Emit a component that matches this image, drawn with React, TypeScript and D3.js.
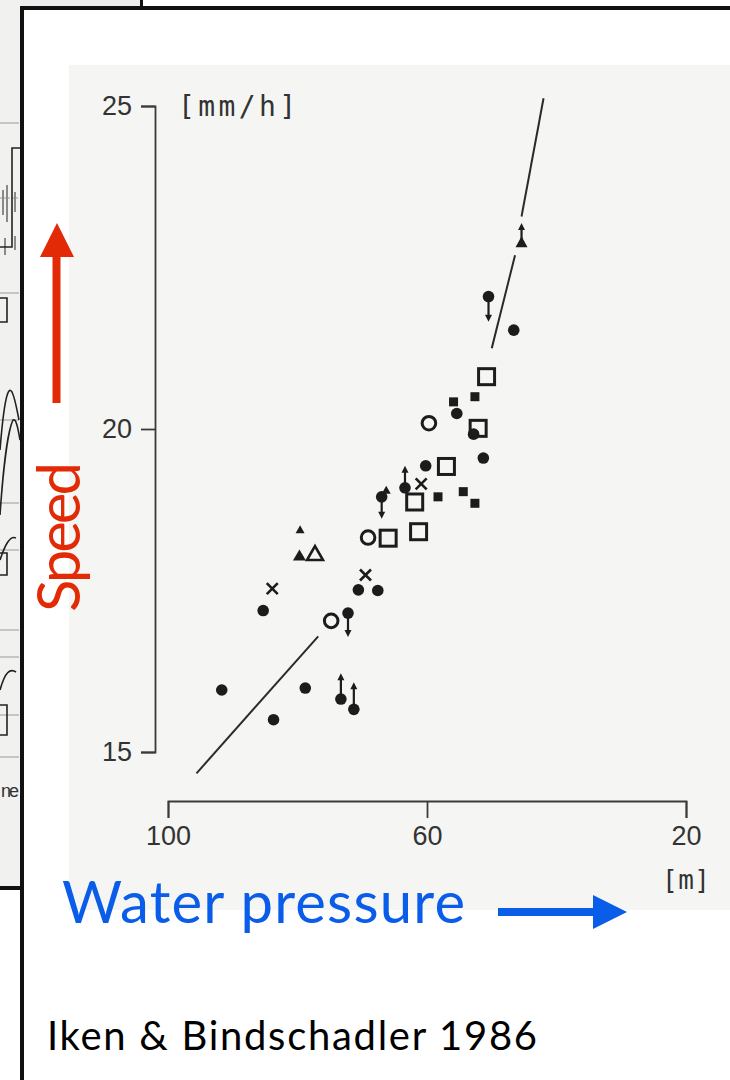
import React, { useEffect, useRef } from "react";
import * as d3 from "d3";

// ---- data (water pressure [m], speed [mm/h]) ----
const xTicks = [100, 60, 20];
const yTicks = [15, 20, 25];
const xDomain = [100, 20];
const yDomain = [15, 25];

const filledCircles: [number, number][] = [
  [91.7, 15.96], [83.7, 15.5], [78.8, 15.99], [85.3, 17.19], [70.6, 17.51],
  [67.6, 17.5], [60.2, 19.43], [51.3, 19.55], [52.8, 19.92], [55.4, 20.24], [46.6, 21.53],
];
// [x, y, arrow length in mm/h]
const circlesArrowDown: [number, number, number][] = [
  [72.2, 17.15, 0.37], [67.0, 18.95, 0.34], [50.5, 22.05, 0.39],
];
const circlesArrowUp: [number, number, number][] = [
  [73.3, 15.82, 0.4], [71.3, 15.66, 0.42], [63.4, 19.09, 0.34],
];
const smallSquares: [number, number][] = [
  [55.9, 20.42], [52.6, 20.5], [58.3, 18.95], [54.4, 19.03], [52.6, 18.85],
];
const openSquares: [number, number][] = [
  [50.8, 20.81], [52.1, 20.01], [57.0, 19.42], [61.9, 18.87], [61.3, 18.41], [66.0, 18.31],
];
const openCircles: [number, number][] = [[59.7, 20.09], [69.1, 18.32], [74.8, 17.03]];
const crosses: [number, number][] = [[83.9, 17.53], [69.5, 17.74], [60.9, 19.15]];
const filledTriangles: [number, number][] = [[79.7, 18.05]];
const smallTriangles: [number, number][] = [[79.6, 18.45], [66.3, 19.06]];
const trianglesArrowUp: [number, number, number][] = [[45.4, 22.9, 0.29]];
const openTriangles: [number, number][] = [[77.3, 18.08]];
const fitLines: [number, number][][] = [
  [[42.0, 25.12], [45.4, 23.29]],
  [[46.4, 22.69], [50.0, 21.25]],
  [[76.8, 16.79], [95.6, 14.67]],
];

const INK = "#1c1c1c";

export default function App() {
  const xAxisRef = useRef<SVGGElement>(null);
  const yAxisRef = useRef<SVGGElement>(null);

  const x = d3.scaleLinear().domain(xDomain).range([168, 686]);
  const y = d3.scaleLinear().domain(yDomain).range([752, 106]);

  useEffect(() => {
    const xa = d3.select(xAxisRef.current!);
    xa.call(
      d3.axisBottom(x).tickValues(xTicks).tickSize(17).tickSizeOuter(17).tickPadding(8).tickFormat(d3.format("d"))
    );
    const ya = d3.select(yAxisRef.current!);
    ya.call(
      d3.axisLeft(y).tickValues(yTicks).tickSize(14).tickSizeOuter(14).tickPadding(9).tickFormat(d3.format("d"))
    );
    [xa, ya].forEach((g) => {
      g.selectAll("path, line").attr("stroke", "#3a3a3a").attr("stroke-width", 1.8);
      g.selectAll("text")
        .attr("fill", "#333")
        .attr("font-size", 27)
        .attr("font-family", "'Liberation Sans', Arial, sans-serif");
    });
  }, []);

  const line = d3.line<[number, number]>().x((d) => x(d[0])).y((d) => y(d[1]));

  const arrow = (px: number, y0: number, y1: number, key: string) => {
    const dir = y1 > y0 ? 1 : -1;
    return (
      <g key={key}>
        <line x1={px} x2={px} y1={y0} y2={y1 - dir * 5} stroke={INK} strokeWidth={2.2} />
        <path d={`M${px - 3.5},${y1 - dir * 7}L${px + 3.5},${y1 - dir * 7}L${px},${y1}Z`} fill={INK} />
      </g>
    );
  };

  const tri = (cx: number, cy: number, w: number, h: number) =>
    `M${cx - w / 2},${cy + h / 2}L${cx + w / 2},${cy + h / 2}L${cx},${cy - h / 2}Z`;

  return (
    <svg
      width={730}
      height={1080}
      viewBox="0 0 730 1080"
      style={{ position: "absolute", left: 0, top: 0, background: "#fff" }}
    >
      {/* background slide fragments */}
      <rect x={0} y={0} width={730} height={1080} fill="#ffffff" />
      <rect x={0} y={0} width={141} height={7} fill="#eeefec" />
      <rect x={140} y={0} width={3} height={9} fill="#111" />
      <rect x={0} y={0} width={21} height={886} fill="#f1f2ef" />
      <g stroke="#9a9a9a" strokeWidth={1}>
        <line x1={0} x2={19} y1={123} y2={123} />
        <line x1={0} x2={19} y1={198} y2={198} strokeDasharray="2,2" />
        <line x1={0} x2={19} y1={293} y2={293} />
        <line x1={0} x2={19} y1={420} y2={420} />
        <line x1={0} x2={19} y1={503} y2={503} />
        <line x1={0} x2={19} y1={550} y2={550} />
        <line x1={0} x2={19} y1={630} y2={630} />
        <line x1={0} x2={19} y1={657} y2={657} />
        <line x1={0} x2={19} y1={715} y2={715} />
        <line x1={0} x2={19} y1={757} y2={757} />
      </g>
      <g stroke="#222" strokeWidth={1.6} fill="none">
        <path d="M0,247H12V148H20" />
        <path d="M3,190V215M7,185V222M15,192V212M5,238V255M15,236V250" strokeWidth={1} />
        <path d="M0,298H7V322H0" />
        <path d="M0,450C4,400 8,385 12,392C15,398 17,410 19,420" />
        <path d="M0,515C3,470 8,430 13,420C16,418 18,428 20,440" />
        <path d="M0,560C5,545 10,535 16,538" />
        <path d="M0,553H7V575H0" />
        <path d="M0,690C5,672 10,668 16,672" />
        <path d="M0,705H7V735H0" />
      </g>
      <text x={1} y={797} fontSize={18} fill="#333" fontFamily="'Liberation Sans', sans-serif"
        textLength={18}>ne</text>
      <rect x={0} y={886} width={21} height={4} fill="#111" />

      {/* front slide */}
      <rect x={22} y={8} width={760} height={1100} fill="#fff" stroke="#111" strokeWidth={4} />

      {/* scanned figure background */}
      <rect x={69} y={65} width={661} height={845} fill="#f5f6f4" />

      {/* fit lines */}
      {fitLines.map((seg, i) => (
        <path key={`fl${i}`} d={line(seg)!} stroke="#2a2a2a" strokeWidth={2} fill="none" />
      ))}

      {/* axes */}
      <g ref={xAxisRef} transform="translate(0,801)" />
      <g ref={yAxisRef} transform="translate(155,0)" />
      <text x={x(20)} y={889} textAnchor="middle" fontSize={26} fill="#333"
        fontFamily="'DejaVu Sans Mono', monospace" textLength={48}>[m]</text>
      <text x={178} y={116} fontSize={28} fill="#333"
        fontFamily="'DejaVu Sans Mono', monospace" textLength={118}>[mm/h]</text>

      {/* markers */}
      {filledCircles.map((d, i) => (
        <circle key={`fc${i}`} cx={x(d[0])} cy={y(d[1])} r={5.8} fill={INK} />
      ))}
      {circlesArrowDown.map((d, i) => (
        <g key={`cd${i}`}>
          <circle cx={x(d[0])} cy={y(d[1])} r={5.8} fill={INK} />
          {arrow(x(d[0]), y(d[1]), y(d[1] - d[2]), `ad${i}`)}
        </g>
      ))}
      {circlesArrowUp.map((d, i) => (
        <g key={`cu${i}`}>
          <circle cx={x(d[0])} cy={y(d[1])} r={5.8} fill={INK} />
          {arrow(x(d[0]), y(d[1]), y(d[1] + d[2]), `au${i}`)}
        </g>
      ))}
      {smallSquares.map((d, i) => (
        <rect key={`ss${i}`} x={x(d[0]) - 4.5} y={y(d[1]) - 4.5} width={9} height={9} fill={INK} />
      ))}
      {openSquares.map((d, i) => (
        <rect key={`os${i}`} x={x(d[0]) - 8} y={y(d[1]) - 8} width={16} height={16}
          fill="none" stroke={INK} strokeWidth={3} />
      ))}
      {openCircles.map((d, i) => (
        <circle key={`oc${i}`} cx={x(d[0])} cy={y(d[1])} r={6.8} fill="none" stroke={INK} strokeWidth={3} />
      ))}
      {crosses.map((d, i) => {
        const cx = x(d[0]), cy = y(d[1]), s = 5.5;
        return (
          <path key={`x${i}`} d={`M${cx - s},${cy - s}L${cx + s},${cy + s}M${cx - s},${cy + s}L${cx + s},${cy - s}`}
            stroke={INK} strokeWidth={2.6} />
        );
      })}
      {filledTriangles.map((d, i) => (
        <path key={`ft${i}`} d={tri(x(d[0]), y(d[1]), 13, 11)} fill={INK} />
      ))}
      {smallTriangles.map((d, i) => (
        <path key={`st${i}`} d={tri(x(d[0]), y(d[1]), 9, 8)} fill={INK} />
      ))}
      {trianglesArrowUp.map((d, i) => (
        <g key={`ta${i}`}>
          <path d={tri(x(d[0]), y(d[1]), 12, 11)} fill={INK} />
          {arrow(x(d[0]), y(d[1]), y(d[1] + d[2]), `ta${i}`)}
        </g>
      ))}
      {openTriangles.map((d, i) => (
        <path key={`ot${i}`} d={tri(x(d[0]), y(d[1]), 16, 14)} fill="none" stroke={INK} strokeWidth={2.6}
          strokeLinejoin="miter" />
      ))}

      {/* slide annotations */}
      <polygon points="40,257 74,257 57,223" fill="#e22a06" />
      <rect x={52.5} y={250} width={8} height={153} fill="#e22a06" />
      <text transform="translate(80,537) rotate(-90)" textAnchor="middle" fontSize={60}
        fill="#e22a06" fontFamily="Lato, 'Open Sans', sans-serif" textLength={150}>Speed</text>

      <text x={62} y={923} fontSize={58} fill="#0a5de8" fontFamily="Lato, 'Open Sans', sans-serif"
        textLength={403}>Water pressure</text>
      <rect x={498} y={908} width={97} height={8} fill="#0a5de8" />
      <polygon points="593,895 593,929 627,912" fill="#0a5de8" />

      <text x={47} y={1050} fontSize={40} fill="#000" fontFamily="Lato, 'Open Sans', sans-serif"
        textLength={490}>Iken &amp; Bindschadler 1986</text>
    </svg>
  );
}
